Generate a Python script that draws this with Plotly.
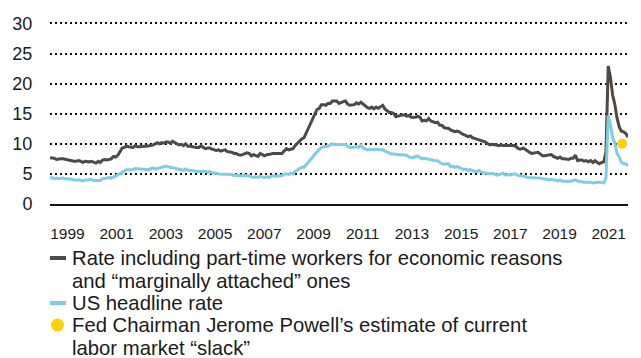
import pandas as pd
import plotly.graph_objects as go

# Monthly unemployment rates, %, January 1999 - January 2021 (seasonally adjusted)
u6_rate = [
    7.7, 7.7, 7.6, 7.4, 7.5, 7.5, 7.5, 7.4, 7.3, 7.3, 7.2, 7.1,          # 1999
    7.1, 7.2, 7.1, 6.9, 7.1, 7.0, 7.0, 7.1, 7.0, 6.8, 7.1, 6.9,          # 2000
    7.3, 7.4, 7.3, 7.4, 7.5, 7.9, 7.8, 8.1, 8.7, 9.3, 9.4, 9.6,          # 2001
    9.5, 9.5, 9.4, 9.7, 9.5, 9.5, 9.6, 9.6, 9.6, 9.6, 9.7, 9.8,          # 2002
    10.0, 10.2, 10.0, 10.2, 10.1, 10.3, 10.3, 10.1, 10.4, 10.2, 10.0, 9.8,  # 2003
    9.9, 9.7, 10.0, 9.6, 9.6, 9.5, 9.5, 9.4, 9.4, 9.7, 9.4, 9.2,         # 2004
    9.3, 9.3, 9.1, 9.0, 8.9, 9.0, 8.8, 8.9, 9.0, 8.7, 8.7, 8.6,          # 2005
    8.4, 8.4, 8.2, 8.1, 8.2, 8.4, 8.5, 8.4, 8.0, 8.2, 8.1, 7.9,          # 2006
    8.4, 8.2, 8.0, 8.2, 8.2, 8.3, 8.4, 8.4, 8.4, 8.4, 8.4, 8.8,          # 2007
    9.2, 9.0, 9.1, 9.2, 9.7, 10.1, 10.5, 10.8, 11.0, 11.8, 12.6, 13.6,   # 2008
    14.2, 15.1, 15.7, 15.9, 16.5, 16.5, 16.4, 16.7, 16.7, 17.1, 17.1, 17.1,  # 2009
    16.7, 16.9, 17.0, 17.1, 16.6, 16.4, 16.4, 16.5, 16.8, 16.6, 16.9, 16.6,  # 2010
    16.2, 16.0, 15.9, 16.1, 15.8, 16.1, 15.9, 16.1, 16.4, 15.8, 15.5, 15.2,  # 2011
    15.2, 15.0, 14.5, 14.6, 14.8, 14.8, 14.8, 14.6, 14.7, 14.4, 14.4, 14.4,  # 2012
    14.6, 14.4, 13.8, 13.9, 13.8, 14.2, 13.8, 13.6, 13.5, 13.6, 13.1, 13.1,  # 2013
    12.7, 12.6, 12.6, 12.3, 12.1, 12.0, 12.1, 12.0, 11.7, 11.5, 11.4, 11.2,  # 2014
    11.3, 11.0, 10.9, 10.8, 10.7, 10.5, 10.4, 10.3, 10.0, 9.8, 9.9, 9.9,     # 2015
    9.8, 9.7, 9.8, 9.7, 9.7, 9.6, 9.7, 9.6, 9.7, 9.5, 9.2, 9.1,          # 2016
    9.3, 9.1, 8.8, 8.6, 8.4, 8.5, 8.5, 8.6, 8.3, 8.0, 8.0, 8.1,          # 2017
    8.1, 8.2, 7.9, 7.8, 7.6, 7.8, 7.5, 7.5, 7.5, 7.4, 7.6, 7.6,          # 2018
    8.1, 7.2, 7.3, 7.3, 7.1, 7.2, 7.0, 7.2, 6.9, 7.2, 6.9, 6.7,          # 2019
    6.9, 7.0, 8.7, 22.9, 21.1, 18.1, 16.6, 14.3, 12.8, 12.1, 12.0, 11.7,  # 2020
    11.1,                                                                 # 2021
]

headline_rate = [
    4.3, 4.4, 4.2, 4.3, 4.2, 4.3, 4.3, 4.2, 4.2, 4.1, 4.1, 4.0,   # 1999
    4.0, 4.1, 4.0, 3.8, 4.0, 4.0, 4.0, 4.1, 3.9, 3.9, 3.9, 3.9,   # 2000
    4.2, 4.2, 4.3, 4.4, 4.3, 4.5, 4.6, 4.9, 5.0, 5.3, 5.5, 5.7,   # 2001
    5.7, 5.7, 5.7, 5.9, 5.8, 5.8, 5.8, 5.7, 5.7, 5.7, 5.9, 6.0,   # 2002
    5.8, 5.9, 5.9, 6.0, 6.1, 6.3, 6.2, 6.1, 6.1, 6.0, 5.8, 5.7,   # 2003
    5.7, 5.6, 5.8, 5.6, 5.6, 5.6, 5.5, 5.4, 5.4, 5.5, 5.4, 5.4,   # 2004
    5.3, 5.4, 5.2, 5.2, 5.1, 5.0, 5.0, 4.9, 5.0, 5.0, 5.0, 4.9,   # 2005
    4.7, 4.8, 4.7, 4.7, 4.6, 4.6, 4.7, 4.7, 4.5, 4.4, 4.5, 4.4,   # 2006
    4.6, 4.5, 4.4, 4.5, 4.4, 4.6, 4.7, 4.6, 4.7, 4.7, 4.7, 5.0,   # 2007
    5.0, 4.9, 5.1, 5.0, 5.4, 5.6, 5.8, 6.1, 6.1, 6.5, 6.8, 7.3,   # 2008
    7.8, 8.3, 8.7, 9.0, 9.4, 9.5, 9.5, 9.6, 9.8, 10.0, 9.9, 9.9,  # 2009
    9.8, 9.8, 9.9, 9.9, 9.6, 9.4, 9.4, 9.5, 9.5, 9.4, 9.8, 9.3,   # 2010
    9.1, 9.0, 9.0, 9.1, 9.0, 9.1, 9.0, 9.0, 9.0, 8.8, 8.6, 8.5,   # 2011
    8.3, 8.3, 8.2, 8.2, 8.2, 8.2, 8.2, 8.1, 7.8, 7.8, 7.7, 7.9,   # 2012
    8.0, 7.7, 7.5, 7.6, 7.5, 7.5, 7.3, 7.2, 7.2, 7.2, 6.9, 6.7,   # 2013
    6.6, 6.7, 6.7, 6.2, 6.3, 6.1, 6.2, 6.1, 5.9, 5.7, 5.8, 5.6,   # 2014
    5.7, 5.5, 5.4, 5.4, 5.6, 5.3, 5.2, 5.1, 5.0, 5.0, 5.1, 5.0,   # 2015
    4.8, 4.9, 5.0, 5.1, 4.8, 4.9, 4.8, 4.9, 5.0, 4.9, 4.7, 4.7,   # 2016
    4.7, 4.6, 4.4, 4.4, 4.4, 4.3, 4.3, 4.4, 4.3, 4.2, 4.2, 4.1,   # 2017
    4.0, 4.1, 4.0, 4.0, 3.8, 4.0, 3.8, 3.8, 3.7, 3.8, 3.8, 3.9,   # 2018
    4.0, 3.8, 3.8, 3.7, 3.6, 3.6, 3.7, 3.6, 3.5, 3.6, 3.6, 3.6,   # 2019
    3.5, 3.5, 4.4, 14.7, 13.2, 11.0, 10.2, 8.4, 7.8, 6.9, 6.7, 6.7,  # 2020
    6.3,                                                          # 2021
]

months = pd.date_range("1999-01-01", periods=len(u6_rate), freq="MS")

# Powell's estimate of labour market slack
powell_date = ["2020-10-10"]
powell_value = [10]

year_labels = ["1999", "2001", "2003", "2005", "2007", "2009",
               "2011", "2013", "2015", "2017", "2019", "2021"]
year_label_dates = ["1999-09-01", "2001-07-16", "2003-05-31", "2005-04-14",
                    "2007-02-27", "2009-01-12", "2010-11-26", "2012-10-11",
                    "2014-08-26", "2016-07-10", "2018-05-25", "2020-04-08"]

y_ticks = [0, 5, 10, 15, 20, 25, 30]

legend_lines = [
    "Rate including part-time workers for economic reasons",
    "and \u201cmarginally attached\u201d ones",
    "US headline rate",
    "Fed Chairman Jerome Powell\u2019s estimate of current",
    "labor market \u201cslack\u201d",
]

BROWN = "#4f4843"
BLUE = "#7fcde2"
YELLOW = "#ffd200"
TEXT = "#1a1a1a"
FONT = "Liberation Sans, Arial, sans-serif"

W, H = 641, 358
ML, MR, MT, MB = 50, 13, 21, 154
PW, PH = W - ML - MR, H - MT - MB
Y_TOP = 30.4  # a little headroom so the top gridline is not clipped


def paper_x(px):
    return (px - ML) / PW


def paper_y(py):
    return 1 - (py - MT) / PH


fig = go.Figure()
fig.add_trace(go.Scatter(x=months, y=u6_rate, mode="lines",
                         line=dict(color=BROWN, width=3), showlegend=False,
                         hoverinfo="skip"))
fig.add_trace(go.Scatter(x=months, y=headline_rate, mode="lines",
                         line=dict(color=BLUE, width=3), showlegend=False,
                         hoverinfo="skip"))
fig.add_trace(go.Scatter(x=powell_date, y=powell_value, mode="markers",
                         marker=dict(color=YELLOW, size=10, line=dict(width=0)),
                         showlegend=False, hoverinfo="skip"))

# Legend drawn by hand: a swatch followed by the wrapped label lines
line_centers = [258, 281, 303, 325, 348]
for text, cy in zip(legend_lines, line_centers):
    fig.add_annotation(x=paper_x(70), y=paper_y(cy), xref="paper", yref="paper",
                       text=text, showarrow=False, xanchor="left",
                       yanchor="middle", font=dict(size=20.3, color=TEXT, family=FONT))

for color, cy in [(BROWN, 258), (BLUE, 303)]:
    fig.add_shape(type="line", xref="paper", yref="paper",
                  x0=paper_x(50), x1=paper_x(66), y0=paper_y(cy), y1=paper_y(cy),
                  line=dict(color=color, width=4))
fig.add_shape(type="circle", xref="paper", yref="paper",
              x0=paper_x(51), x1=paper_x(64), y0=paper_y(318.5), y1=paper_y(331.5),
              fillcolor=YELLOW, line=dict(width=0))

fig.update_xaxes(
    range=["1999-01-01", "2021-01-01"],
    tickmode="array", tickvals=year_label_dates, ticktext=year_labels,
    ticks="outside", ticklen=14, tickcolor="rgba(0,0,0,0)",
    tickfont=dict(size=15.5, color=TEXT, family=FONT),
    showgrid=False, zeroline=False,
    showline=True, linecolor="#111111", linewidth=2,
)
fig.update_yaxes(
    range=[0, Y_TOP], tickmode="array", tickvals=y_ticks,
    ticks="outside", ticklen=13, tickcolor="rgba(0,0,0,0)",
    tickfont=dict(size=18, color=TEXT, family=FONT),
    showgrid=True, gridcolor="#111111", gridwidth=1.6, griddash="1.6px,3.4px",
    zeroline=False, showline=False,
)
fig.update_layout(
    width=W, height=H, autosize=False,
    margin=dict(l=ML, r=MR, t=MT, b=MB, pad=0),
    plot_bgcolor="white", paper_bgcolor="white",
    font=dict(family=FONT, color=TEXT),
)

fig.write_html("out.html")
